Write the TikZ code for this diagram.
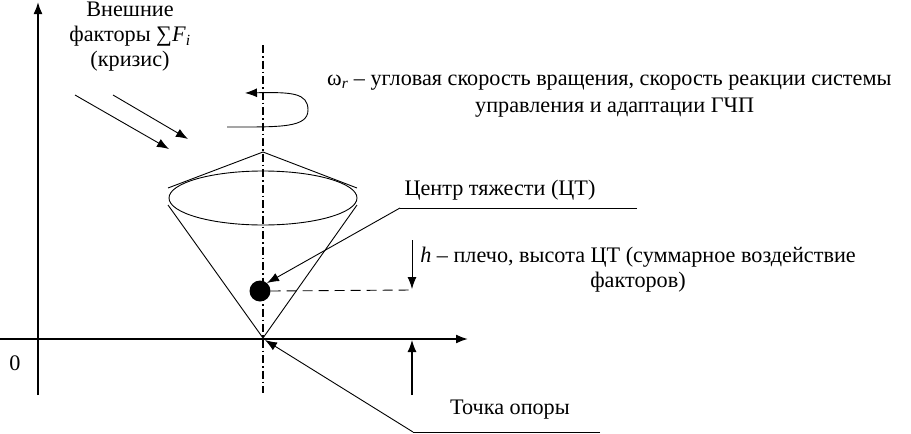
\documentclass[tikz,border=0pt]{standalone}
\usepackage{fontspec}
\setmainfont{Liberation Serif}
\usetikzlibrary{arrows.meta}
\begin{document}
\begin{tikzpicture}[x=1pt,y=-1pt,
  thinline/.style={line width=0.9pt},
  axisline/.style={line width=1.8pt},
  tip/.style={-{Latex[length=12pt,width=9pt]}},
  lbl/.style={font=\fontsize{22.2}{25}\selectfont, inner sep=0pt, align=center},
  axisdash/.style={line width=1.2pt, dash pattern=on 8pt off 3pt on 1.5pt off 3pt},
  hdash/.style={line width=0.9pt, dash pattern=on 10pt off 6pt}]
\useasboundingbox (0,0) rectangle (911,434);

% axes
\coordinate (yb) at (38,395); \coordinate (yt) at (38,2);
\coordinate (xl) at (0,339); \coordinate (xr) at (468,339);
\draw[axisline,tip] (yb) -- (yt);
\draw[axisline,tip] (xl) -- (xr);
\node[lbl] (zero) at (15,363) {0};

% vertical dash-dot axis of cone
\coordinate (at) at (263,45); \coordinate (ab) at (263,393);
\draw[axisdash] (at) -- (ab);

% cone
\coordinate (apex) at (263,152);
\coordinate (tl) at (168,188); \coordinate (tr) at (357,188);
\coordinate (sl) at (168,205); \coordinate (sr) at (357,205);
\coordinate (bot) at (263,338);
\draw[thinline] (tl) -- (apex) -- (tr);
\draw[thinline] (263,198) ellipse [x radius=94, y radius=27];
\draw[thinline] (sl) -- (bot) -- (sr);

% centre of gravity ball
\node[circle, fill=black, minimum size=21pt, inner sep=0pt] (ball) at (260,291) {};
\coordinate (hd) at (412,290);
\draw[hdash] (ball.east) -- (hd);
\coordinate (htop) at (412,240);
\draw[thinline,tip] (htop) -- (412,289);

% rotation arrow
\coordinate (rs) at (227,127);
\coordinate (re) at (245,93);
\draw[thinline,tip] (rs) .. controls (280,127) and (308,128) .. (308,110)
   .. controls (308,93) and (292,92) .. (re);

% external force arrows
\coordinate (f1s) at (75,95); \coordinate (f1e) at (169,149);
\coordinate (f2s) at (113,95); \coordinate (f2e) at (188,139);
\draw[thinline,tip] (f1s) -- (f1e);
\draw[thinline,tip] (f2s) -- (f2e);

% upward arrow
\coordinate (ub) at (412,395); \coordinate (ut) at (412,340);
\draw[line width=1.2pt,tip] (ub) -- (ut);

% labels
\node[lbl] (ext) at (130,37) {Внешние\\факторы ∑\textit{F}\textsubscript{\textit{i}}\\(кризис)};
\node[lbl, anchor=west] (om1) at (327,83) {ω\textsubscript{\textit{r}} – угловая скорость вращения, скорость реакции системы};
\node[lbl, anchor=west] (om2) at (475,108) {управления и адаптации ГЧП};
\node[lbl] (ct) at (500,190) {Центр тяжести (ЦТ)};
\coordinate (ctl) at (400,208); \coordinate (ctr) at (637,208);
\draw[thinline] (ctr) -- (ctl);
\draw[thinline,tip] (ctl) -- (267,283);
\node[lbl] (hl) at (638,270) {\textit{h} – плечо, высота ЦТ (суммарное воздействие\\факторов)};
\node[lbl] (to) at (510,410) {Точка опоры};
\coordinate (tol) at (413,432); \coordinate (tor) at (600,432);
\draw[thinline] (tor) -- (tol);
\draw[thinline,tip] (tol) -- (265,340);
\end{tikzpicture}
\end{document}
